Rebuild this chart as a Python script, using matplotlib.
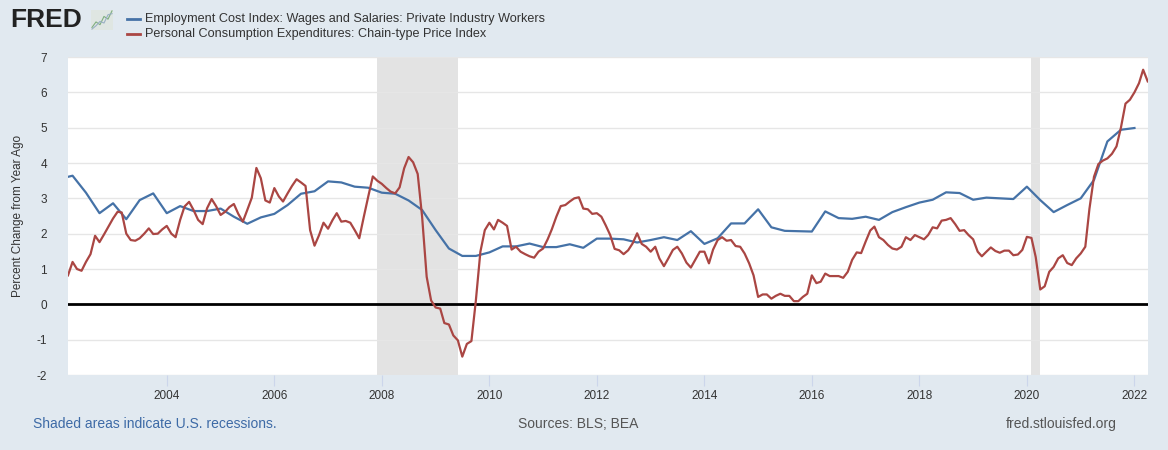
import numpy as np
import pandas as pd
import matplotlib
matplotlib.use('Agg')
import matplotlib.pyplot as plt
import matplotlib.dates as mdates

plt.rcParams['font.family'] = ['Liberation Sans', 'DejaVu Sans']
plt.rcParams['axes.unicode_minus'] = False

# Employment Cost Index, wages and salaries, private industry (quarterly, % change yoy)
eci_dates = pd.date_range('2002-01-01', '2022-01-01', freq='QS')
eci = [3.55, 3.64, 3.16, 2.58,
       2.86, 2.41, 2.95, 3.14,
       2.58, 2.78, 2.64, 2.64,
       2.71, 2.48, 2.28, 2.46,
       2.56, 2.81, 3.13, 3.20,
       3.48, 3.45, 3.33, 3.30,
       3.16, 3.13, 2.94, 2.67,
       2.10, 1.58, 1.37, 1.37,
       1.47, 1.64, 1.64, 1.72,
       1.62, 1.62, 1.70, 1.60,
       1.86, 1.86, 1.84, 1.75,
       1.82, 1.90, 1.82, 2.07,
       1.71, 1.87, 2.29, 2.29,
       2.69, 2.18, 2.08, 2.07,
       2.06, 2.63, 2.44, 2.42,
       2.48, 2.39, 2.61, 2.75,
       2.88, 2.96, 3.17, 3.15,
       2.96, 3.02, 3.00, 2.98,
       3.33, 2.95, 2.61, 2.81,
       3.00, 3.52, 4.61, 4.94,
       4.99]

# PCE chain-type price index (monthly, % change yoy)
pce_dates = pd.date_range('2002-03-01', '2022-04-01', freq='MS')
pce = [0.82, 1.20, 1.00, 0.95, 1.20, 1.42, 1.94, 1.76, 1.98, 2.20,
       2.43, 2.62, 2.60, 2.00, 1.82, 1.80, 1.87, 2.00, 2.15, 1.99, 2.00, 2.12,
       2.22, 2.00, 1.90, 2.39, 2.77, 2.90, 2.67, 2.39, 2.27, 2.72, 2.98, 2.78,
       2.53, 2.62, 2.75, 2.84, 2.56, 2.34, 2.67, 3.02, 3.86, 3.57, 2.94, 2.88,
       3.29, 3.05, 2.91, 3.14, 3.35, 3.54, 3.45, 3.35, 2.10, 1.66, 1.96, 2.31,
       2.14, 2.39, 2.58, 2.34, 2.36, 2.31, 2.10, 1.87, 2.48, 3.05, 3.62, 3.50,
       3.41, 3.29, 3.19, 3.14, 3.31, 3.85, 4.17, 4.02, 3.69, 2.48, 0.78, 0.11,
       -0.09, -0.12, -0.53, -0.57, -0.88, -1.02, -1.48, -1.12, -1.04, 0.10, 1.49, 2.10,
       2.31, 2.12, 2.39, 2.31, 2.22, 1.55, 1.63, 1.49, 1.42, 1.36, 1.32, 1.49,
       1.58, 1.84, 2.12, 2.48, 2.78, 2.81, 2.91, 3.00, 3.03, 2.71, 2.69, 2.56,
       2.58, 2.48, 2.24, 1.96, 1.57, 1.53, 1.42, 1.53, 1.73, 2.01, 1.71, 1.63,
       1.49, 1.63, 1.30, 1.08, 1.30, 1.54, 1.63, 1.44, 1.18, 1.04, 1.27, 1.49,
       1.49, 1.16, 1.55, 1.82, 1.90, 1.80, 1.82, 1.65, 1.63, 1.44, 1.16, 0.82,
       0.21, 0.28, 0.28, 0.16, 0.24, 0.30, 0.24, 0.24, 0.09, 0.09, 0.21, 0.30,
       0.82, 0.60, 0.64, 0.87, 0.80, 0.80, 0.80, 0.75, 0.92, 1.26, 1.47, 1.45,
       1.78, 2.09, 2.20, 1.90, 1.82, 1.68, 1.58, 1.55, 1.63, 1.90, 1.82, 1.96,
       1.90, 1.84, 1.96, 2.18, 2.15, 2.37, 2.39, 2.44, 2.27, 2.08, 2.10, 1.96,
       1.84, 1.49, 1.36, 1.49, 1.61, 1.51, 1.46, 1.52, 1.52, 1.39, 1.41, 1.54,
       1.91, 1.88, 1.34, 0.42, 0.51, 0.92, 1.06, 1.30, 1.39, 1.17, 1.11, 1.30,
       1.44, 1.63, 2.70, 3.61, 3.97, 4.07, 4.13, 4.26, 4.47, 5.00, 5.68, 5.79,
       6.00, 6.26, 6.64, 6.31]

recessions = [('2007-12-01', '2009-06-01'), ('2020-02-01', '2020-04-01')]

eci_label = 'Employment Cost Index: Wages and Salaries: Private Industry Workers'
pce_label = 'Personal Consumption Expenditures: Chain-type Price Index'

BG = '#e1e9f0'
BLUE = '#4572a7'
RED = '#aa4643'

fig = plt.figure(figsize=(11.68, 4.5), dpi=100, facecolor=BG)
ax = fig.add_axes([68/1168, 1 - 375/450, 1080/1168, 318/450])
ax.set_facecolor('white')

for start, end in recessions:
    ax.axvspan(pd.Timestamp(start), pd.Timestamp(end), color='#e3e3e3', lw=0, zorder=0)

ax.set_yticks(np.arange(-2, 8, 1))
ax.yaxis.grid(True, color='#e6e6e6', lw=1, zorder=0.5)
ax.axhline(0, color='black', lw=2, zorder=2)

ax.plot(eci_dates, eci, color=BLUE, lw=1.6, zorder=3, solid_joinstyle='round')
ax.plot(pce_dates, pce, color=RED, lw=1.6, zorder=3, solid_joinstyle='round')

ax.set_xlim(pd.Timestamp('2002-03-01'), pd.Timestamp('2022-04-03'))
ax.set_ylim(-2, 7)
ax.xaxis.set_major_locator(mdates.YearLocator(2, month=1, day=1))
ax.xaxis.set_major_formatter(mdates.DateFormatter('%Y'))
for side in ax.spines.values():
    side.set_visible(False)
ax.tick_params(axis='x', length=8, color='#ccd6eb', labelsize=8.5, labelcolor='#333333', pad=3)
ax.tick_params(axis='y', length=0, labelsize=8.5, labelcolor='#333333', pad=15)
ax.set_ylabel('Percent Change from Year Ago', fontsize=8.5, color='#333333')
ax.yaxis.set_label_coords(-44/1080, 0.5)

# header: logo and legend
fig.text(10/1168, 1 - 20/450, 'FRED', fontsize=19, fontweight='bold', color='#222222',
         va='center', ha='left')
icon = fig.add_axes([91/1168, 1 - 30/450, 22/1168, 20/450])
icon.set_facecolor('#dfe6e2')
icon.plot([0, 1, 2, 3, 4, 5], [0.5, 1.5, 1.0, 2.5, 2.0, 3.5], color='#7fae7f', lw=0.8)
icon.plot([0, 1, 2, 3, 4, 5], [0.2, 0.8, 1.6, 1.3, 2.8, 3.0], color='#9ab0c4', lw=0.8)
icon.set_xticks([])
icon.set_yticks([])
for side in icon.spines.values():
    side.set_visible(False)

fig.lines.append(plt.Line2D([127/1168, 140/1168], [1 - 19/450, 1 - 19/450],
                            color=BLUE, lw=2, transform=fig.transFigure))
fig.lines.append(plt.Line2D([127/1168, 140/1168], [1 - 34/450, 1 - 34/450],
                            color=RED, lw=2, transform=fig.transFigure))
fig.text(145/1168, 1 - 19/450, eci_label, fontsize=9.1, color='#333333', va='center')
fig.text(145/1168, 1 - 34/450, pce_label, fontsize=9.1, color='#333333', va='center')

# footer
fig.text(33/1168, 1 - 424/450, 'Shaded areas indicate U.S. recessions.', fontsize=10,
         color='#3d6aa6', va='center', ha='left')
fig.text(578/1168, 1 - 424/450, 'Sources: BLS; BEA', fontsize=10, color='#555555',
         va='center', ha='center')
fig.text(1117/1168, 1 - 424/450, 'fred.stlouisfed.org', fontsize=10, color='#555555',
         va='center', ha='right')

fig.savefig('out.png', dpi=100, facecolor=BG)
